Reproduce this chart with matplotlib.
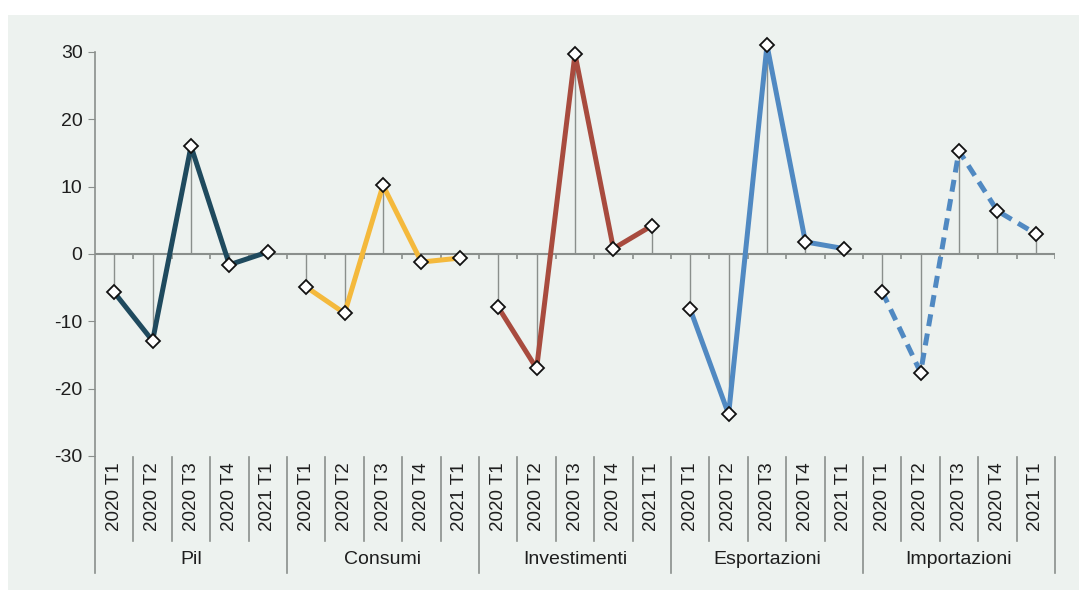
import matplotlib.pyplot as plt
from matplotlib.patches import Rectangle
import matplotlib.transforms as mtransforms

# Dati (variazioni % congiunturali annualizzate)
trimestri = ["2020 T1", "2020 T2", "2020 T3", "2020 T4", "2021 T1"]
gruppi = ["Pil", "Consumi", "Investimenti", "Esportazioni", "Importazioni"]
pil = [-5.7, -12.9, 16.0, -1.6, 0.3]
consumi = [-4.9, -8.8, 10.2, -1.2, -0.6]
investimenti = [-7.9, -17.0, 29.7, 0.8, 4.2]
esportazioni = [-8.2, -23.8, 31.0, 1.8, 0.8]
importazioni = [-5.6, -17.6, 15.3, 6.4, 3.0]

serie = [pil, consumi, investimenti, esportazioni, importazioni]
colori = ["#1f4a5e", "#f4b93c", "#a84b3e", "#5089c2", "#5089c2"]
stili = ["-", "-", "-", "-", (0, (2.4, 1.5))]

plt.rcParams["font.family"] = ["Liberation Sans", "DejaVu Sans"]
plt.rcParams["axes.unicode_minus"] = False

bg = "#edf2ef"
grigio = "#8a8f8c"
testo = "#1e1e1e"

fig = plt.figure(figsize=(10.79, 5.90), dpi=100)
fig.patch.set_facecolor("white")
fig.patches.append(Rectangle((8 / 1079, 0), 1, 575 / 590, transform=fig.transFigure,
                             facecolor=bg, edgecolor="none", zorder=-10))

ax = fig.add_axes([95 / 1079, 134 / 590, 960 / 1079, 404 / 590])
ax.set_facecolor("none")

n = len(trimestri)
for g, (vals, col, ls) in enumerate(zip(serie, colori, stili)):
    xs = [g * n + i + 0.5 for i in range(n)]
    ax.vlines(xs, 0, vals, color=grigio, lw=1, zorder=1)
    ax.plot(xs, vals, color=col, lw=3.6, ls=ls, zorder=2, solid_capstyle="butt",
            clip_on=False)
    ax.plot(xs, vals, ls="none", marker="D", ms=7.5, mfc="white", mec="#111111",
            mew=1.3, zorder=3, clip_on=False)

tot = n * len(gruppi)
ax.set_xlim(0, tot)
ax.set_ylim(-30, 30)
ax.set_yticks([-30, -20, -10, 0, 10, 20, 30])
ax.tick_params(axis="y", length=5, color=grigio, labelsize=14, labelcolor=testo, pad=4)
ax.set_xticks([])
for s in ["top", "right", "bottom"]:
    ax.spines[s].set_visible(False)
ax.spines["left"].set_color(grigio)
ax.spines["left"].set_linewidth(1.2)

# asse dello zero con tacche tra i trimestri
ax.axhline(0, color=grigio, lw=1.5, zorder=1)
ax.vlines(range(1, tot + 1), -0.8, 0, color=grigio, lw=1.2, zorder=1)

# etichette categoriali sotto il grafico
tr = mtransforms.blended_transform_factory(ax.transData, ax.transAxes)
for k in range(tot + 1):
    basso = -0.29 if k % n == 0 else -0.21
    ax.plot([k, k], [-0.003, basso], color=grigio, lw=1.2, transform=tr, clip_on=False)
for g, nome in enumerate(gruppi):
    for i, t in enumerate(trimestri):
        ax.text(g * n + i + 0.5, -0.015, t, transform=tr, rotation=90, ha="center",
                va="top", fontsize=13.5, color=testo)
    ax.text(g * n + n / 2, -0.255, nome, transform=tr, ha="center", va="center",
            fontsize=14, color=testo)

fig.savefig("out.png", dpi=100, facecolor=fig.get_facecolor())
